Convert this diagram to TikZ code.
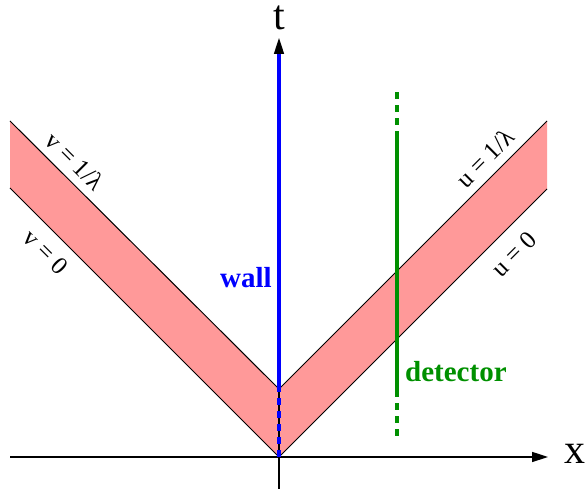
\documentclass[tikz,border=0pt]{standalone}
\usepackage{fontspec}
\setmainfont{Liberation Serif}
\usetikzlibrary{arrows.meta}
\definecolor{pinkband}{RGB}{255,153,153}
\definecolor{xgreen}{RGB}{0,144,0}
\tikzset{
  band/.style={fill=pinkband,draw=none},
  edge/.style={draw=black,line width=1pt},
  axis/.style={draw=black,line width=1.6pt,-{Triangle[length=16pt,width=10pt]}},
  wallline/.style={draw=blue,line width=3.5pt},
  detline/.style={draw=xgreen,line width=3.5pt},
  dashpat/.style={dash pattern=on 7pt off 6pt},
  linelabel/.style={font=\fontsize{25}{25}\selectfont,inner sep=0pt},
  axlabel/.style={font=\fontsize{42}{42}\selectfont,inner sep=0pt},
  boldlabel/.style={font=\fontsize{29}{29}\selectfont\bfseries,inner sep=0pt}
}
\begin{document}
\begin{tikzpicture}[x=1pt,y=1pt]
\useasboundingbox (0,0) rectangle (587,494);
% named points
\coordinate (O) at (279,37);
\coordinate (V) at (279,105);
\coordinate (Lb) at (10,306);
\coordinate (Lt) at (10,373);
\coordinate (Rb) at (547,305);
\coordinate (Rt) at (547,373);
\coordinate (xs) at (10,37);
\coordinate (xe) at (548,37);
\coordinate (ts) at (279,5);
\coordinate (te) at (279,456);
\coordinate (wtop) at (279,440);
\coordinate (d0) at (397,58);
\coordinate (d1) at (397,104);
\coordinate (d2) at (397,356);
\coordinate (d3) at (397,406);
% bands
\fill[band] (O) -- (Lb) -- (Lt) -- (V) -- (Rt) -- (Rb) -- cycle;
\draw[edge] (Lb) -- (O) -- (Rb);
\draw[edge] (Lt) -- (V) -- (Rt);
% axes
\draw[axis] (xs) -- (xe);
\draw[axis] (ts) -- (te);
% wall
\draw[wallline] (V) -- (wtop);
\draw[wallline,dashpat] (O) -- (V);
% detector
\draw[detline,dashpat] (d0) -- (d1);
\draw[detline] (d1) -- (d2);
\draw[detline,dashpat] (d2) -- (d3);
% labels
\node[axlabel,anchor=base] (tl) at (279,464) {t};
\node[axlabel] (xl) at (575,40) {x};
\node[boldlabel,text=blue,anchor=base east] (wl) at (272,206) {wall};
\node[boldlabel,text=xgreen,anchor=base west] (dl) at (405,112) {detector};
\node[linelabel,rotate=-45] (v1) at (75,333) {v = 1/λ};
\node[linelabel,rotate=-45] (v0) at (46,242) {v = 0};
\node[linelabel,rotate=45] (u1) at (485,336) {u = 1/λ};
\node[linelabel,rotate=45] (u0) at (514,240) {u = 0};
\end{tikzpicture}
\end{document}
